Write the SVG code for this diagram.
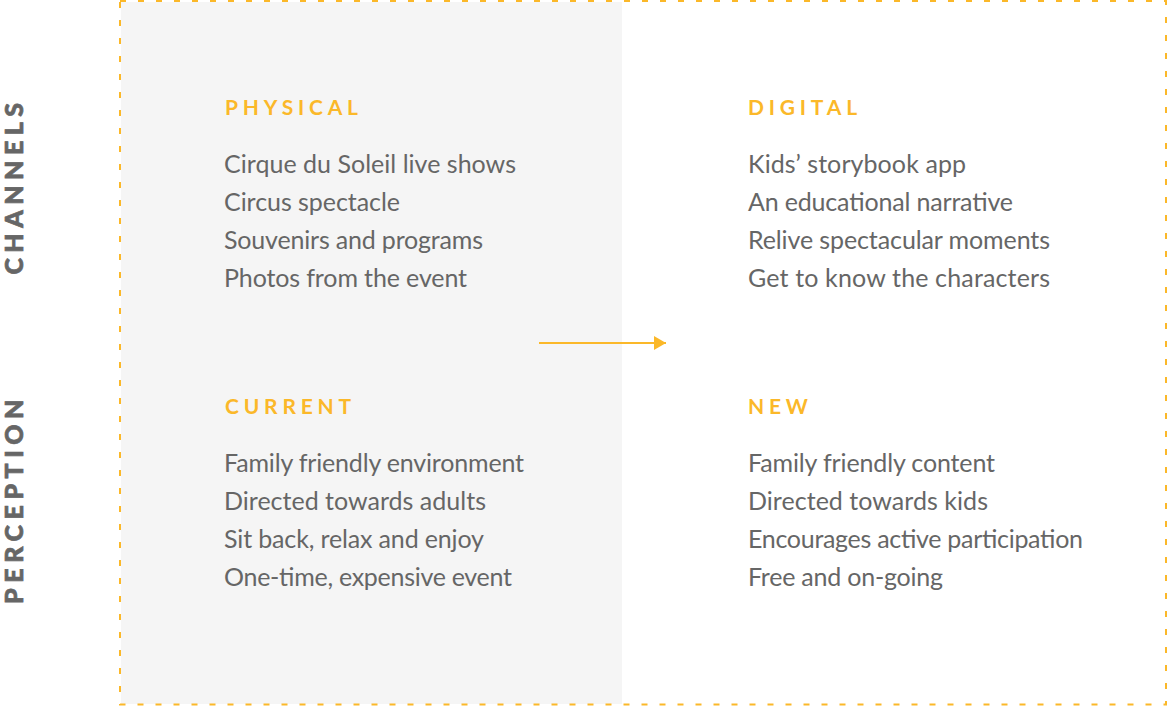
<svg xmlns="http://www.w3.org/2000/svg" width="1167" height="706" viewBox="0 0 1167 706">
<style>
.head{font-family:Lato,"Open Sans",sans-serif;font-weight:700;font-size:21px;letter-spacing:4.8px;fill:#FBB829}
.body{font-family:Lato,"Open Sans",sans-serif;font-size:25px;fill:#666666}
.side{font-family:Lato,"Open Sans",sans-serif;font-weight:900;font-size:25px;letter-spacing:5.5px;fill:#666666;stroke:#666666;stroke-width:0.7px}
</style>
<defs>
<marker id="arr" markerWidth="12" markerHeight="14" refX="12" refY="7" orient="auto" markerUnits="userSpaceOnUse">
<path d="M0,0 L12,7 L0,14 Z" fill="#FBB829"/>
</marker>
</defs>
<rect x="0" y="0" width="1167" height="706" fill="#ffffff"/>
<rect x="121" y="2" width="501" height="702" fill="#F5F5F5"/>
<rect x="120" y="1" width="1046" height="703.5" fill="none" stroke="#FBB829" stroke-width="2" stroke-dasharray="6 12"/>
<g id="side-labels">
<text class="side" transform="translate(23,186) rotate(-90)" text-anchor="middle">CHANNELS</text>
<text class="side" transform="translate(23,499) rotate(-90)" text-anchor="middle">PERCEPTION</text>
</g>
<g id="physical">
<text class="head" x="225" y="115">PHYSICAL</text>
<text class="body" x="224" y="173" textLength="292">Cirque du Soleil live shows</text>
<text class="body" x="224" y="211" textLength="176">Circus spectacle</text>
<text class="body" x="224" y="249" textLength="259">Souvenirs and programs</text>
<text class="body" x="224" y="287" textLength="243">Photos from the event</text>
</g>
<g id="digital">
<text class="head" x="748" y="115">DIGITAL</text>
<text class="body" x="748" y="173" textLength="218">Kids’ storybook app</text>
<text class="body" x="748" y="211" textLength="265">An educational narrative</text>
<text class="body" x="748" y="249" textLength="302">Relive spectacular moments</text>
<text class="body" x="748" y="287" textLength="302">Get to know the characters</text>
</g>
<g id="current">
<text class="head" x="225" y="414">CURRENT</text>
<text class="body" x="224" y="472" textLength="300">Family friendly environment</text>
<text class="body" x="224" y="510" textLength="262">Directed towards adults</text>
<text class="body" x="224" y="548" textLength="260">Sit back, relax and enjoy</text>
<text class="body" x="224" y="586" textLength="288">One-time, expensive event</text>
</g>
<g id="new">
<text class="head" x="748" y="414">NEW</text>
<text class="body" x="748" y="472" textLength="247">Family friendly content</text>
<text class="body" x="748" y="510" textLength="240">Directed towards kids</text>
<text class="body" x="748" y="548" textLength="335">Encourages active participation</text>
<text class="body" x="748" y="586" textLength="195">Free and on-going</text>
</g>
<g id="connectors">
<line x1="539" y1="343" x2="666" y2="343" stroke="#FBB829" stroke-width="2" marker-end="url(#arr)"/>
</g>
</svg>
